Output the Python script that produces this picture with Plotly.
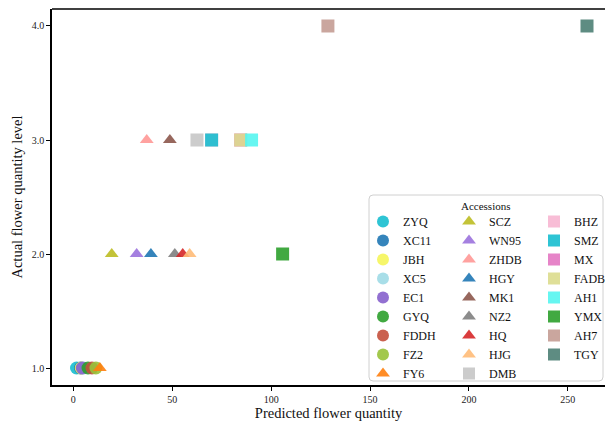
import plotly.graph_objects as go

# ---- data ----
names = ["ZYQ", "XC11", "JBH", "XC5", "EC1", "GYQ", "FDDH", "FZ2", "FY6",
         "SCZ", "WN95", "ZHDB", "HGY", "MK1", "NZ2", "HQ", "HJG", "DMB",
         "BHZ", "SMZ", "MX", "FADB", "AH1", "YMX", "AH7", "TGY"]
predicted = [1.6, 3.6, 4.0, 5.1, 4.5, 7.4, 9.4, 11.4, 13.4,
             19.4, 32.0, 37.1, 39.2, 48.8, 51.3, 55.3, 58.8, 62.5,
             69.9, 69.9, 84.6, 84.6, 90.1, 105.8, 128.7, 259.7]
actual = [1, 1, 1, 1, 1, 1, 1, 1, 1,
          2, 2, 3, 2, 3, 2, 2, 2, 3,
          3, 3, 3, 3, 3, 2, 4, 4]
symbols = (["circle"] * 8 + ["triangle-up"] * 9 + ["square"] * 9)
colors = ["#17becf", "#1f77b4", "#f5f55a", "#9edae5", "#8660cc", "#2ca02c", "#c4503c", "#98c23a", "#ff7f0e",
          "#bcbd22", "#9b72dd", "#ff9896", "#1f77b4", "#8c564b", "#7f7f7f", "#d62728", "#ffbb78", "#c7c7c7",
          "#f7b6d2", "#17becf", "#e377c2", "#dbdb8d", "#55f5f0", "#2ca02c", "#c49c94", "#4d7f74"]
legend_ids = ["legend"] * 9 + ["legend2"] * 9 + ["legend3"] * 8
y_ticks = [1, 2, 3, 4]
y_tick_text = ["1.0", "2.0", "3.0", "4.0"]
x_ticks = [0, 50, 100, 150, 200, 250]

FONT = "Liberation Serif, Times New Roman, serif"

fig = go.Figure()
for n, xv, yv, sym, c, lg in zip(names, predicted, actual, symbols, colors, legend_ids):
    size = 13 if sym == "circle" else (12 if sym == "triangle-up" else 13)
    fig.add_trace(go.Scatter(
        x=[xv], y=[yv], mode="markers", name=n, legend=lg,
        marker=dict(symbol=sym, color=c, size=size, opacity=0.9, line=dict(width=0)),
    ))

W, H = 605, 432
L, R, T, B = 52, 0, 9, 47
pw, ph = W - L - R, H - T - B

def px_x(p):
    return (p - L) / pw

def px_y(p):
    return (H - B - p) / ph

leg_common = dict(bgcolor="rgba(0,0,0,0)", borderwidth=0, xanchor="left", yanchor="top",
                  font=dict(family=FONT, size=12, color="#111"), tracegroupgap=0,
                  itemsizing="constant")
top_leg = 207
fig.update_layout(
    legend=dict(x=px_x(363), y=px_y(top_leg), **leg_common),
    legend2=dict(x=px_x(449), y=px_y(top_leg), **leg_common),
    legend3=dict(x=px_x(534), y=px_y(top_leg), **leg_common),
)

# legend frame + title
x0, x1, y0, y1, rr = 369, 603, 195, 381, 4
path = (f"M {px_x(x0+rr)},{px_y(y0)} L {px_x(x1-rr)},{px_y(y0)} Q {px_x(x1)},{px_y(y0)} {px_x(x1)},{px_y(y0+rr)} "
        f"L {px_x(x1)},{px_y(y1-rr)} Q {px_x(x1)},{px_y(y1)} {px_x(x1-rr)},{px_y(y1)} "
        f"L {px_x(x0+rr)},{px_y(y1)} Q {px_x(x0)},{px_y(y1)} {px_x(x0)},{px_y(y1-rr)} "
        f"L {px_x(x0)},{px_y(y0+rr)} Q {px_x(x0)},{px_y(y0)} {px_x(x0+rr)},{px_y(y0)} Z")
fig.add_shape(type="path", path=path, xref="paper", yref="paper",
              line=dict(color="#d0d0d0", width=1), fillcolor="rgba(255,255,255,0.85)", layer="above")
# top spine
fig.add_shape(type="line", xref="paper", yref="paper", x0=0, x1=1, y0=1, y1=1,
              line=dict(color="black", width=1.5), layer="above")
fig.add_annotation(x=px_x((x0 + x1) / 2), y=px_y(206), xref="paper", yref="paper",
                   text="Accessions", showarrow=False, font=dict(family=FONT, size=11, color="#111"),
                   xanchor="center", yanchor="middle")

fig.update_xaxes(
    range=[-10.8, 268.8], tickvals=x_ticks, showgrid=False, zeroline=False,
    showline=True, linecolor="black", linewidth=1.5, mirror=False,
    ticks="outside", ticklen=4, tickwidth=1, tickcolor="black",
    tickfont=dict(family=FONT, size=10, color="#222"),
    title=dict(text="Predicted flower quantity", font=dict(family=FONT, size=14.5, color="#111"), standoff=3),
)
fig.update_yaxes(
    range=[0.851, 4.149], tickvals=y_ticks, ticktext=y_tick_text, showgrid=False, zeroline=False,
    showline=True, linecolor="black", linewidth=1.5, mirror=False,
    ticks="outside", ticklen=4, tickwidth=1, tickcolor="black",
    tickfont=dict(family=FONT, size=10, color="#222"),
    title=dict(text="Actual flower quantity level", font=dict(family=FONT, size=14.5, color="#111"), standoff=6),
)
fig.update_layout(
    width=W, height=H, margin=dict(l=L, r=R, t=T, b=B, autoexpand=False),
    paper_bgcolor="white", plot_bgcolor="white", showlegend=True,
)
fig.write_html("out.html")
